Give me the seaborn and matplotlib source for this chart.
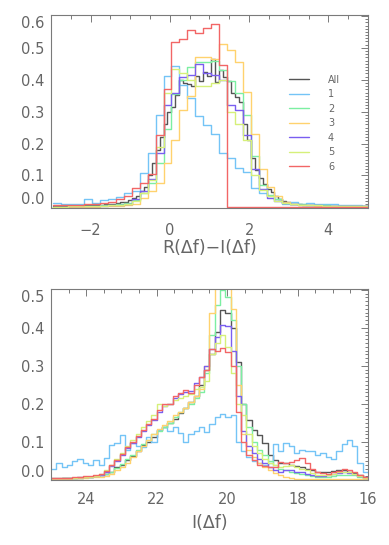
import numpy as np
import pandas as pd
import matplotlib
matplotlib.use("Agg")
import matplotlib.pyplot as plt
from matplotlib.ticker import MultipleLocator
import seaborn as sns

# ---------------- data ----------------
series_names = ["All", "1", "2", "3", "4", "5", "6"]
series_colors = ["#555555", "#74c4f6", "#7cefa2", "#ffd26e", "#7a5ef0", "#d6f07a", "#f26666"]

# top panel: R(df)-I(df); "All" uses 0.1 bins, the groups 0.2 bins
top_edges_fine = np.round(np.linspace(-2.96, 5.04, 81), 3)
top_edges = np.round(np.linspace(-2.96, 5.04, 41), 3)

top_all = [0.003, 0.003, 0.004, 0.004, 0.004, 0.005, 0.005, 0.005, 0.006, 0.006,
           0.007, 0.008, 0.008, 0.009, 0.010, 0.012, 0.014, 0.016, 0.018, 0.022,
           0.030, 0.035, 0.050, 0.065, 0.100, 0.140, 0.180, 0.220, 0.260, 0.300,
           0.315, 0.351, 0.398, 0.390, 0.387, 0.380, 0.411, 0.395, 0.424, 0.413,
           0.465, 0.393, 0.431, 0.408, 0.395, 0.360, 0.347, 0.330, 0.260, 0.210,
           0.155, 0.118, 0.092, 0.074, 0.058, 0.048, 0.036, 0.025, 0.020, 0.016,
           0.012, 0.010, 0.009, 0.008, 0.008, 0.007, 0.006, 0.006, 0.005, 0.005,
           0.005, 0.004, 0.004, 0.004, 0.003, 0.003, 0.003, 0.003, 0.003, 0.003]
top_1 = [0.015, 0.012, 0.011, 0.011, 0.025, 0.015, 0.022, 0.025, 0.032, 0.046,
         0.052, 0.108, 0.170, 0.289, 0.411, 0.442, 0.385, 0.343, 0.286, 0.258,
         0.229, 0.170, 0.154, 0.123, 0.110, 0.061, 0.046, 0.035, 0.025, 0.012,
         0.018, 0.012, 0.015, 0.012, 0.009, 0.009, 0.006, 0.006, 0.006, 0.005]
top_2 = [0.002, 0.002, 0.003, 0.003, 0.004, 0.005, 0.006, 0.008, 0.010, 0.014,
         0.022, 0.045, 0.075, 0.140, 0.245, 0.355, 0.400, 0.440, 0.455, 0.457,
         0.460, 0.430, 0.395, 0.360, 0.290, 0.160, 0.070, 0.040, 0.025, 0.015,
         0.012, 0.010, 0.008, 0.007, 0.006, 0.005, 0.004, 0.004, 0.003, 0.003]
top_3 = [0.001, 0.001, 0.001, 0.002, 0.002, 0.002, 0.003, 0.004, 0.005, 0.007,
         0.012, 0.030, 0.050, 0.075, 0.140, 0.210, 0.305, 0.350, 0.470, 0.472,
         0.465, 0.512, 0.493, 0.455, 0.362, 0.230, 0.120, 0.065, 0.035, 0.018,
         0.012, 0.008, 0.006, 0.005, 0.004, 0.004, 0.003, 0.003, 0.003, 0.002]
top_4 = [0.002, 0.002, 0.003, 0.003, 0.004, 0.004, 0.005, 0.006, 0.008, 0.012,
         0.025, 0.050, 0.090, 0.170, 0.320, 0.360, 0.410, 0.415, 0.450, 0.420,
         0.415, 0.400, 0.320, 0.305, 0.228, 0.119, 0.056, 0.030, 0.020, 0.013,
         0.010, 0.008, 0.007, 0.006, 0.005, 0.004, 0.004, 0.003, 0.003, 0.003]
top_5 = [0.002, 0.002, 0.003, 0.003, 0.004, 0.004, 0.005, 0.006, 0.008, 0.012,
         0.020, 0.045, 0.085, 0.190, 0.360, 0.434, 0.420, 0.400, 0.380, 0.380,
         0.390, 0.400, 0.300, 0.260, 0.210, 0.100, 0.055, 0.035, 0.020, 0.013,
         0.010, 0.008, 0.007, 0.006, 0.005, 0.004, 0.004, 0.003, 0.003, 0.003]
top_6 = [0.006, 0.008, 0.008, 0.008, 0.010, 0.012, 0.015, 0.018, 0.025, 0.035,
         0.060, 0.075, 0.105, 0.227, 0.370, 0.519, 0.529, 0.556, 0.548, 0.563,
         0.575, 0.447, 0.000, 0.000, 0.000, 0.000, 0.000, 0.000, 0.000, 0.000,
         0.000, 0.000, 0.000, 0.000, 0.000, 0.000, 0.000, 0.000, 0.000, 0.000]

# bottom panel: I(df), 0.15 mag bins from 25 (first value) down to 16
bot_edges = np.round(np.linspace(16.0, 25.0, 61), 3)
bot_centers = np.round(np.linspace(24.925, 16.075, 60), 3)

bot_all = [0.003, 0.003, 0.004, 0.004, 0.005, 0.006, 0.007, 0.008, 0.010, 0.012,
           0.015, 0.022, 0.033, 0.040, 0.052, 0.063, 0.076, 0.092, 0.100, 0.113,
           0.131, 0.140, 0.150, 0.161, 0.175, 0.188, 0.205, 0.222, 0.250, 0.290,
           0.330, 0.390, 0.448, 0.440, 0.400, 0.310, 0.200, 0.157, 0.131, 0.118,
           0.096, 0.065, 0.052, 0.044, 0.044, 0.040, 0.036, 0.034, 0.030, 0.026,
           0.022, 0.020, 0.022, 0.024, 0.026, 0.026, 0.022, 0.018, 0.012, 0.008]
bot_1 = [0.030, 0.045, 0.035, 0.040, 0.050, 0.055, 0.045, 0.040, 0.052, 0.040,
         0.057, 0.092, 0.096, 0.118, 0.079, 0.096, 0.090, 0.087, 0.113, 0.100,
         0.131, 0.140, 0.130, 0.140, 0.124, 0.100, 0.120, 0.130, 0.140, 0.125,
         0.148, 0.166, 0.173, 0.165, 0.170, 0.100, 0.075, 0.060, 0.050, 0.045,
         0.040, 0.045, 0.095, 0.075, 0.096, 0.090, 0.070, 0.080, 0.075, 0.076,
         0.065, 0.070, 0.060, 0.055, 0.075, 0.095, 0.105, 0.090, 0.045, 0.020]
bot_2 = [0.003, 0.003, 0.004, 0.004, 0.005, 0.006, 0.007, 0.008, 0.010, 0.012,
         0.015, 0.022, 0.032, 0.042, 0.055, 0.065, 0.080, 0.095, 0.105, 0.120,
         0.130, 0.140, 0.150, 0.165, 0.180, 0.190, 0.200, 0.215, 0.230, 0.280,
         0.380, 0.460, 0.500, 0.480, 0.420, 0.300, 0.200, 0.140, 0.100, 0.080,
         0.065, 0.050, 0.040, 0.030, 0.025, 0.020, 0.018, 0.015, 0.012, 0.010,
         0.008, 0.008, 0.008, 0.010, 0.012, 0.014, 0.014, 0.012, 0.008, 0.005]
bot_3 = [0.002, 0.002, 0.003, 0.003, 0.004, 0.005, 0.006, 0.007, 0.008, 0.009,
         0.010, 0.015, 0.025, 0.035, 0.045, 0.060, 0.075, 0.090, 0.105, 0.120,
         0.135, 0.145, 0.155, 0.170, 0.180, 0.190, 0.205, 0.220, 0.240, 0.300,
         0.440, 0.530, 0.550, 0.530, 0.450, 0.250, 0.120, 0.080, 0.060, 0.045,
         0.035, 0.025, 0.018, 0.012, 0.008, 0.005, 0.003, 0.002, 0.002, 0.002,
         0.002, 0.002, 0.002, 0.002, 0.002, 0.002, 0.002, 0.002, 0.002, 0.002]
bot_4 = [0.004, 0.004, 0.005, 0.005, 0.006, 0.007, 0.008, 0.009, 0.011, 0.014,
         0.022, 0.038, 0.050, 0.066, 0.085, 0.098, 0.112, 0.128, 0.145, 0.158,
         0.180, 0.195, 0.200, 0.215, 0.225, 0.230, 0.235, 0.255, 0.270, 0.300,
         0.345, 0.375, 0.408, 0.405, 0.340, 0.220, 0.130, 0.090, 0.070, 0.055,
         0.045, 0.035, 0.025, 0.020, 0.025, 0.025, 0.022, 0.020, 0.015, 0.012,
         0.010, 0.010, 0.012, 0.015, 0.018, 0.020, 0.018, 0.015, 0.010, 0.006]
bot_5 = [0.004, 0.004, 0.005, 0.005, 0.006, 0.007, 0.008, 0.009, 0.011, 0.015,
         0.025, 0.040, 0.055, 0.070, 0.090, 0.105, 0.120, 0.140, 0.155, 0.170,
         0.200, 0.195, 0.200, 0.210, 0.215, 0.220, 0.225, 0.240, 0.245, 0.260,
         0.330, 0.360, 0.380, 0.350, 0.280, 0.200, 0.170, 0.120, 0.090, 0.070,
         0.055, 0.045, 0.040, 0.035, 0.038, 0.040, 0.035, 0.030, 0.025, 0.018,
         0.014, 0.012, 0.014, 0.016, 0.020, 0.022, 0.020, 0.016, 0.010, 0.006]
bot_6 = [0.005, 0.005, 0.006, 0.006, 0.007, 0.008, 0.010, 0.010, 0.012, 0.015,
         0.024, 0.040, 0.052, 0.068, 0.087, 0.100, 0.115, 0.131, 0.148, 0.160,
         0.185, 0.200, 0.200, 0.220, 0.228, 0.236, 0.228, 0.250, 0.270, 0.290,
         0.345, 0.340, 0.346, 0.336, 0.300, 0.180, 0.100, 0.065, 0.052, 0.040,
         0.038, 0.035, 0.035, 0.048, 0.044, 0.046, 0.052, 0.058, 0.045, 0.030,
         0.022, 0.018, 0.016, 0.020, 0.024, 0.028, 0.026, 0.022, 0.012, 0.008]

top_x_ticks = [-2, 0, 2, 4]
top_y_ticks = [0.0, 0.1, 0.2, 0.3, 0.4, 0.5, 0.6]
bot_x_ticks = [24, 22, 20, 18, 16]
bot_y_ticks = [0.0, 0.1, 0.2, 0.3, 0.4, 0.5]
top_xlabel = "R(Δf)−I(Δf)"
bot_xlabel = "I(Δf)"

# ---------------- style ----------------
sns.set_style("white")
plt.rcParams["font.family"] = ["DejaVu Sans"]
AX_C = "#7a7a7a"
TXT_C = "#666666"

fig = plt.figure(figsize=(3.89, 5.45), dpi=100)
ax1 = fig.add_axes([51 / 389, 1 - 208 / 545, 317 / 389, 193 / 545])
ax2 = fig.add_axes([51 / 389, 1 - 480 / 545, 317 / 389, 191 / 545])

top_sets = [(top_edges_fine, top_all), (top_edges, top_1), (top_edges, top_2),
            (top_edges, top_3), (top_edges, top_4), (top_edges, top_5), (top_edges, top_6)]
for (edges, vals), name, col in zip(top_sets, series_names, series_colors):
    centers = (edges[:-1] + edges[1:]) / 2
    df = pd.DataFrame({"x": centers, "w": vals})
    sns.histplot(data=df, x="x", weights="w", bins=list(edges), element="step",
                 fill=False, color=col, linewidth=1.0, ax=ax1, label=name)

bot_sets = [bot_all, bot_1, bot_2, bot_3, bot_4, bot_5, bot_6]
for vals, name, col in zip(bot_sets, series_names, series_colors):
    df = pd.DataFrame({"x": bot_centers, "w": vals})
    sns.histplot(data=df, x="x", weights="w", bins=list(bot_edges), element="step",
                 fill=False, color=col, linewidth=1.0, ax=ax2, label=name)

ax1.set_xlim(-3, 5)
ax1.set_ylim(-0.002, 0.603)
ax2.set_xlim(25, 16)
ax2.set_ylim(0.0, 0.502)

for ax, xt, yt, xlab, lp, xpad in [(ax1, top_x_ticks, top_y_ticks, top_xlabel, 1, 10.5),
                                   (ax2, bot_x_ticks, bot_y_ticks, bot_xlabel, 5, 9)]:
    for sp in ax.spines.values():
        sp.set_color(AX_C)
        sp.set_linewidth(0.8)
    ax.set_xticks(xt)
    ax.set_xticklabels([str(v).replace("-", "\u2212") for v in xt])
    ax.set_yticks(yt)
    ylabs = ax.set_yticklabels(["%.1f" % v for v in yt])
    ylabs[0].set_va("bottom")
    ylabs[-1].set_va("top")
    ax.xaxis.set_minor_locator(MultipleLocator(0.5))
    ax.yaxis.set_minor_locator(MultipleLocator(0.01))
    ax.tick_params(axis="both", which="both", direction="in", top=True, right=True,
                   color=AX_C, labelcolor=TXT_C, width=0.7)
    ax.tick_params(axis="x", which="major", length=5, pad=xpad, labelsize=10.5)
    ax.tick_params(axis="x", which="minor", length=3)
    ax.tick_params(axis="y", which="major", length=5, pad=5, labelsize=10.5)
    ax.tick_params(axis="y", which="minor", length=2)
    ax.set_xlabel(xlab, fontsize=12.5, color=TXT_C, labelpad=lp)
    ax.set_ylabel("")

handles, labels = ax1.get_legend_handles_labels()
leg = ax1.legend(handles, labels, loc="upper left", bbox_to_anchor=(0.751, 0.69),
                 frameon=False, fontsize=7, borderpad=0, borderaxespad=0,
                 handlelength=2.05, handletextpad=1.95, labelspacing=0.46,
                 labelcolor=TXT_C)

fig.savefig("out.png", dpi=100)
